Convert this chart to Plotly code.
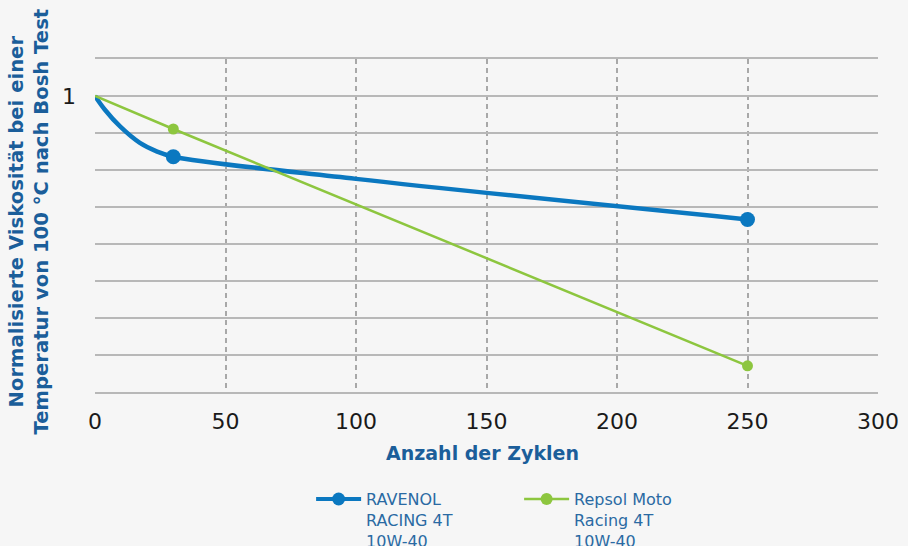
import plotly.graph_objects as go

# ---- data ----
ravenol_curve_x = [0, 3.8, 9.6, 17.2, 23.6, 30, 100, 250]
ravenol_curve_y = [1.0, 0.9907, 0.9794, 0.9683, 0.9626, 0.959, 0.944, 0.9166]
ravenol_marker_x = [30, 250]
ravenol_marker_y = [0.959, 0.9166]

repsol_x = [0, 30, 250]
repsol_y = [1.0, 0.9777, 0.8177]
repsol_marker_x = [30, 250]
repsol_marker_y = [0.9777, 0.8177]

x_tick_vals = [0, 50, 100, 150, 200, 250, 300]
y_tick_vals = [0.8, 0.825, 0.85, 0.875, 0.9, 0.925, 0.95, 0.975, 1.0, 1.025]
y_tick_text = ["", "", "", "", "", "", "", "", "1", ""]

name_ravenol = "RAVENOL<br>RACING 4T<br>10W-40"
name_repsol = "Repsol Moto<br>Racing 4T<br>10W-40"

BLUE = "#0b78c0"
GREEN = "#8dc63f"
TITLE_BLUE = "#1b5e9a"
LEGEND_BLUE = "#2a6aa3"
GRID = "#b8b8b8"
BG = "#f6f6f6"

fig = go.Figure()

# data traces
fig.add_trace(go.Scatter(x=ravenol_curve_x, y=ravenol_curve_y, mode="lines",
                         line=dict(color=BLUE, width=4.5, shape="spline"),
                         showlegend=False, hoverinfo="skip"))
fig.add_trace(go.Scatter(x=ravenol_marker_x, y=ravenol_marker_y, mode="markers",
                         marker=dict(color=BLUE, size=15), showlegend=False))
fig.add_trace(go.Scatter(x=repsol_x, y=repsol_y, mode="lines",
                         line=dict(color=GREEN, width=2.5),
                         showlegend=False, hoverinfo="skip"))
fig.add_trace(go.Scatter(x=repsol_marker_x, y=repsol_marker_y, mode="markers",
                         marker=dict(color=GREEN, size=11), showlegend=False))

# legend entries
fig.add_trace(go.Scatter(x=[None], y=[None], mode="lines+markers", name=name_ravenol,
                         line=dict(color=BLUE, width=4), marker=dict(color=BLUE, size=13)))
fig.add_trace(go.Scatter(x=[None], y=[None], mode="lines+markers", name=name_repsol,
                         line=dict(color=GREEN, width=2.7), marker=dict(color=GREEN, size=12)))

fig.update_layout(
    width=908, height=546,
    margin=dict(l=95, r=30, t=59, b=154, autoexpand=False),
    paper_bgcolor=BG, plot_bgcolor=BG,
    font=dict(family="DejaVu Sans", color="#1a1a1a"),
    showlegend=True,
    legend=dict(orientation="h", xref="paper", x=0.276, xanchor="left",
                yref="container", y=0.117, yanchor="top",
                font=dict(size=16, color=LEGEND_BLUE, family="DejaVu Sans"),
                valign="top", entrywidthmode="pixels", entrywidth=148,
                itemwidth=45, bgcolor="rgba(0,0,0,0)"),
    xaxis=dict(range=[0, 300], tickvals=x_tick_vals, showgrid=True,
               gridcolor="#a8a8a8", gridwidth=1.5, griddash="5px,4px",
               showline=True, mirror=True, linecolor=GRID, linewidth=1.8,
               zeroline=False, ticks="", ticklabelstandoff=9, automargin=False,
               tickfont=dict(size=22, color="#1a1a1a", family="DejaVu Sans")),
    yaxis=dict(range=[0.8, 1.025], tickvals=y_tick_vals, ticktext=y_tick_text,
               showgrid=True, gridcolor=GRID, gridwidth=1.8, zeroline=False,
               ticks="", ticklabelstandoff=18, automargin=False,
               tickfont=dict(size=22, color="#1a1a1a", family="DejaVu Sans")),
    annotations=[
        dict(text="Anzahl der Zyklen", xref="paper", yref="paper", x=0.495, y=0,
             xanchor="center", yanchor="middle", yshift=-61, showarrow=False,
             font=dict(size=19, color=TITLE_BLUE, family="DejaVu Sans", weight="bold")),
        dict(text="Normalisierte Viskosität bei einer<br>Temperatur von 100 °C nach Bosh Test",
             xref="paper", yref="paper", x=0, y=0.5, xanchor="center", yanchor="middle",
             xshift=-67, yshift=4, textangle=-90, showarrow=False,
             font=dict(size=19.6, color=TITLE_BLUE, family="DejaVu Sans", weight="bold")),
    ],
)

fig.write_html("out.html", config={"displayModeBar": False},
               post_script="document.body.style.margin='0';"
                           "document.body.style.background='" + BG + "';")
